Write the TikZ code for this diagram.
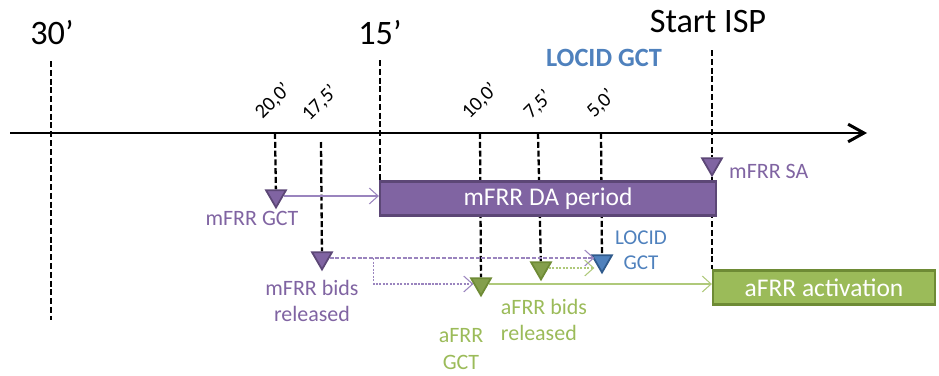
\documentclass[tikz,border=0pt]{standalone}
\usepackage{fontspec}
\setmainfont{Carlito}
\usepackage{xcolor}
\usepackage{tikz}
\usetikzlibrary{shapes.geometric, arrows.meta, backgrounds}

\definecolor{mPurple}{HTML}{8064A2}
\definecolor{mPurpleDark}{HTML}{5C4776}
\definecolor{mPurpleLight}{HTML}{9A84BE}
\definecolor{aGreen}{HTML}{9BBB59}
\definecolor{aGreenDark}{HTML}{6E8B35}
\definecolor{aGreenLight}{HTML}{AFC97A}
\definecolor{lBlue}{HTML}{4F81BD}
\definecolor{lBlueDark}{HTML}{2F5A8C}

\begin{document}
\begin{tikzpicture}[
	x=0.02cm, y=-0.02cm,
	every node/.style={font=\fontsize{12.5}{15}\selectfont},
	timeLabel/.style={font=\fontsize{19.5}{22}\selectfont},
	tickLabel/.style={rotate=45, inner sep=0pt, font=\fontsize{11.5}{13}\selectfont},
	marker/.style={regular polygon, regular polygon sides=3, shape border rotate=180,
		minimum size=0.46cm, inner sep=0pt, line width=1pt},
	period/.style={minimum height=0.68cm, inner sep=0pt, line width=1.3pt,
		text=white, font=\fontsize{14.5}{17}\selectfont},
	timeLine/.style={draw, line width=1.3pt, dash pattern=on 3.4pt off 1.6pt},
	axis/.style={draw, line width=1.7pt, -{Straight Barb[length=9pt, width=10pt]}},
	mEdge/.style={draw=mPurpleLight, line width=0.6pt, -{Straight Barb[length=5pt, width=9pt]}},
	aEdge/.style={draw=aGreenLight, line width=0.6pt, -{Straight Barb[length=5pt, width=9pt]}}
	]

	% Time axis and its marks
	\coordinate (axStart) at (10,133);
	\coordinate (axEnd) at (867,133);
	\coordinate (t30) at (51,61);
	\coordinate (t15) at (380,60);
	\coordinate (tIsp) at (712,50);
	\coordinate (t200) at (275,133);
	\coordinate (t175) at (321,142);
	\coordinate (t100) at (480,133);
	\coordinate (t075) at (538,133);
	\coordinate (t050) at (601,133);

	\node[timeLabel] (l30) at (52,33) {30’};
	\node[timeLabel] (l15) at (380,33) {15’};
	\node[timeLabel] (lIsp) at (708,22) {Start ISP};
	\node[text=lBlue, font=\fontsize{15}{18}\selectfont\bfseries] (locidHead) at (604,58) {LOCID GCT};

	\node[tickLabel] (l200) at (273,101) {20,0’};
	\node[tickLabel] (l175) at (320,103) {17,5’};
	\node[tickLabel] (l100) at (480,101) {10,0’};
	\node[tickLabel] (l075) at (538,105) {7,5’};
	\node[tickLabel] (l050) at (601,104) {5,0’};

	% Periods
	\node[period, fill=mPurple, draw=mPurpleDark, minimum width=6.72cm] (daPeriod) at (548,198.5) {mFRR DA period};
	\node[period, fill=aGreen, draw=aGreenDark, minimum width=4.44cm] (afrrAct) at (824,287.5) {aFRR activation};

	% Gate closures and releases
	\node[marker, fill=mPurple, draw=mPurpleDark] (mfrrSa) at (712,164) {};
	\node[marker, fill=mPurple, draw=mPurpleDark] (mfrrGct) at (276,196) {};
	\node[marker, fill=mPurple, draw=mPurpleDark] (mfrrBids) at (322,258) {};
	\node[marker, fill=aGreen!85!black, draw=aGreenDark] (afrrGct) at (481,284) {};
	\node[marker, fill=aGreen!85!black, draw=aGreenDark] (afrrBids) at (541,268) {};
	\node[marker, fill=lBlue, draw=lBlueDark] (locidGct) at (602,261) {};

	\node[text=mPurple, anchor=west] (mfrrSaText) at (723,171) {mFRR SA};
	\node[text=mPurple] (mfrrGctText) at (252,218) {mFRR GCT};
	\node[text=mPurple, align=center] (mfrrBidsText) at (312,301) {mFRR bids\\released};
	\node[text=aGreen, align=center] (afrrGctText) at (461,349) {aFRR\\GCT};
	\node[text=aGreen, align=left] (afrrBidsText) at (544,320) {aFRR bids\\released};
	\node[text=lBlue, align=center, font=\fontsize{12}{14}\selectfont] (locidGctText) at (641,250) {LOCID\\GCT};

	% Dashed time lines behind everything
	\begin{scope}[on background layer]
		\path [timeLine] (t30) -- (51,320);
		\path [timeLine] (t15) -- (t15 |- daPeriod.north);
		\path [timeLine] (tIsp) -- (mfrrSa);
		\path [timeLine] (mfrrSa) -- (tIsp |- afrrAct.north);
		\path [timeLine] (t200) -- (mfrrGct);
		\path [timeLine] (t175) -- (mfrrBids);
		\path [timeLine] (t100) -- (afrrGct);
		\path [timeLine] (t075) -- (afrrBids);
		\path [timeLine] (t050) -- (locidGct);
	\end{scope}

	\path [axis] (axStart) -- (axEnd);

	% Draw edges
	\coordinate (fork) at ([xshift=0.88cm]mfrrBids.east);
	\path [mEdge] (mfrrGct.east) -- (mfrrGct.east -| daPeriod.west);
	\path [mEdge, dash pattern=on 2.2pt off 1pt] (mfrrBids.east) -- (mfrrBids.east -| locidGct.west);
	\path [mEdge, dash pattern=on 1.2pt off 0.8pt] (fork) |- (afrrGct.west);
	\path [aEdge, dash pattern=on 1.2pt off 0.8pt] (afrrBids.east) -- (afrrBids.east -| locidGct.west);
	\path [aEdge] (afrrGct.east) -- (afrrGct.east -| afrrAct.west);

	\useasboundingbox (0,0) rectangle (939,374);
\end{tikzpicture}
\end{document}
